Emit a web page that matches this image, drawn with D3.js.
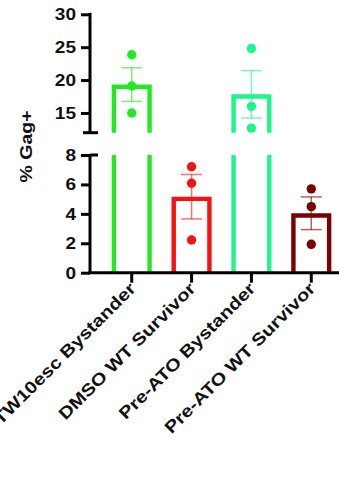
<!DOCTYPE html>
<html>
<head>
<meta charset="utf-8">
<script src="https://cdn.jsdelivr.net/npm/d3@7"></script>
<style>
  body { margin: 0; background: #fff; }
  text { font-family: "Liberation Sans", Arial, sans-serif; font-weight: bold; }
</style>
</head>
<body>
<div id="chart"></div>
<script>
// groups, bar colours and the three replicate values per group
let groups = ['TW10esc Bystander', 'DMSO WT Survivor', 'Pre-ATO Bystander', 'Pre-ATO WT Survivor'];
let colors = ['#22ea22', '#f51212', '#1ef58a', '#7d0000'];
let points = [
    [23.85, 19.1, 15.0],
    [7.2, 6.08, 2.22],
    [24.8, 16.0, 12.7],
    [5.7, 4.49, 1.93]
];
let topTicks = [15, 20, 25, 30];
let bottomTicks = [0, 2, 4, 6, 8];

let width = 339, height = 477;

let svg = d3.select('#chart')
    .append('svg')
    .attr('width', width)
    .attr('height', height);

let axisX = 90;

//two segments of the broken y axis
let yTop = d3.scaleLinear().domain([12, 30]).range([132.7, 14.3]);
let yBot = d3.scaleLinear().domain([0, 8]).range([272.7, 155]);

let x = d3.scaleBand()
    .domain(groups)
    .range([101.5, 341.5])
    .paddingInner(0.33)
    .paddingOuter(0.17);

// pick the segment a value belongs to
let yOf = (v) => v > 8 ? yTop(v) : yBot(v);

let stats = points.map((vals) => {
    let mean = d3.mean(vals);
    let sem = d3.deviation(vals) / Math.sqrt(vals.length);
    return { mean, sem };
});

//bars (stroke drawn inside the bar outline)
let sw = 4.4, inset = sw / 2;
groups.forEach((g, i) => {
    let c = colors[i];
    let x0 = x(g) + inset, x1 = x(g) + x.bandwidth() - inset;
    let m = stats[i].mean;
    let bar = svg.append('g')
        .attr('fill', 'none')
        .attr('stroke', c)
        .attr('stroke-width', sw);
    if (m > 8) {
        bar.append('path')
            .attr('d', `M${x0},${yTop.range()[0]}V${yTop(m) + inset}H${x1}V${yTop.range()[0]}`);
        bar.append('path')
            .attr('d', `M${x0},${yBot(8)}V${yBot(0)}M${x1},${yBot(8)}V${yBot(0)}`);
    } else {
        bar.append('path')
            .attr('d', `M${x0},${yBot(0)}V${yBot(m) + inset}H${x1}V${yBot(0)}`);
    }
});

//error bars (mean +/- SEM)
groups.forEach((g, i) => {
    let cx = x(g) + x.bandwidth() / 2;
    let s = stats[i];
    let hi = yOf(s.mean + s.sem), lo = yOf(s.mean - s.sem);
    let eb = svg.append('g')
        .attr('stroke', colors[i])
        .attr('stroke-opacity', 0.6)
        .attr('stroke-width', 1.5);
    eb.append('line').attr('x1', cx).attr('x2', cx).attr('y1', hi).attr('y2', lo);
    [hi, lo].forEach((y) => {
        eb.append('line').attr('x1', cx - 10.5).attr('x2', cx + 10.5).attr('y1', y).attr('y2', y);
    });
});

//replicate dots
groups.forEach((g, i) => {
    let cx = x(g) + x.bandwidth() / 2;
    svg.append('g')
        .selectAll('circle')
        .data(points[i])
        .enter().append('circle')
        .attr('cx', cx)
        .attr('cy', (d) => yOf(d))
        .attr('r', 4.7)
        .attr('fill', colors[i]);
});

//y axes
let styleAxis = (sel) => {
    sel.select('.domain').remove();
    sel.selectAll('.tick line').attr('stroke', '#000').attr('stroke-width', 3);
    sel.selectAll('.tick text')
        .attr('font-size', 17)
        .attr('fill', '#111')
        .attr('x', 0)
        .attr('transform', 'translate(-14,0) scale(1.12,1)');
};

svg.append('g')
    .attr('transform', `translate(${axisX},0)`)
    .call(d3.axisLeft(yTop).tickValues(topTicks).tickSize(9).tickPadding(3))
    .call(styleAxis);

svg.append('g')
    .attr('transform', `translate(${axisX},0)`)
    .call(d3.axisLeft(yBot).tickValues(bottomTicks).tickSize(9).tickPadding(3))
    .call(styleAxis);

let axisLines = svg.append('g').attr('stroke', '#000').attr('stroke-width', 3).attr('fill', 'none');
axisLines.append('path').attr('d', `M${axisX},${yTop(30) - 1.5}V${yTop.range()[0]}`);
axisLines.append('path').attr('d', `M${axisX - 7},${yTop.range()[0]}H${axisX + 8}`);
axisLines.append('path').attr('d', `M${axisX},${yBot(8)}V${yBot(0)}`);
axisLines.append('path').attr('d', `M${axisX},${yBot(8)}H${axisX + 8}`);

//x axis
let xAxis = svg.append('g')
    .attr('transform', `translate(0,${yBot(0)})`)
    .call(d3.axisBottom(x).tickSize(10).tickSizeOuter(0));
xAxis.select('.domain').attr('d', `M${axisX - 1.5},0H${width}`).attr('stroke-width', 3);
xAxis.selectAll('.tick line').attr('stroke-width', 3);
xAxis.selectAll('.tick text')
    .attr('font-size', 17)
    .attr('fill', '#111')
    .attr('text-anchor', 'end')
    .attr('y', 0)
    .attr('dy', 0)
    .attr('transform', 'translate(5,17) rotate(-45) scale(1.19,1)');

//y label
svg.append('text')
    .attr('transform', `translate(32,146.5) rotate(-90) scale(1.22,1)`)
    .attr('text-anchor', 'middle')
    .attr('font-size', 16)
    .attr('fill', '#111')
    .text('% Gag+');
</script>
</body>
</html>
